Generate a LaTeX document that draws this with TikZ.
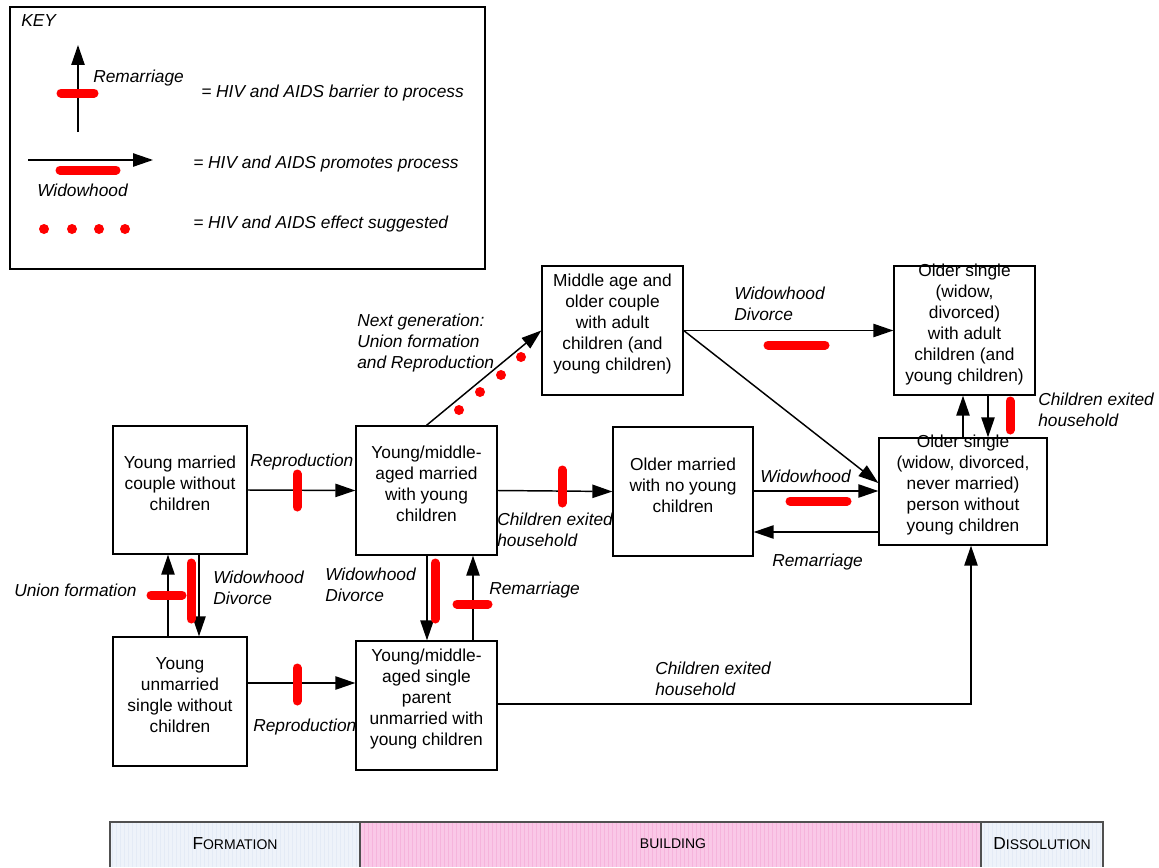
\documentclass[tikz,border=0pt]{standalone}
\usepackage{fontspec}
\setmainfont{Liberation Sans}
\usetikzlibrary{arrows.meta,fit}
\definecolor{hivred}{RGB}{255,0,0}
\definecolor{formblue}{RGB}{238,243,250}
\definecolor{formgrid}{RGB}{228,235,246}
\definecolor{buildpink}{RGB}{250,200,231}
\definecolor{buildgrid}{RGB}{246,180,220}
\definecolor{bardark}{RGB}{80,80,80}
\tikzset{
  box/.style={draw, line width=1pt, align=center, inner sep=0pt, font=\fontsize{13}{15.75}\selectfont},
  conn/.style={line width=1.1pt, -{Triangle[length=15pt,width=10pt]}},
  barrier/.style={draw=hivred, line width=6.75pt, line cap=round},
  lbl/.style={font=\fontsize{13}{15.75}\selectfont\itshape, align=left, inner sep=0pt, anchor=base west},
  hivdot/.style={fill=hivred, circle, inner sep=0pt, minimum size=7.5pt},
  phase/.style={inner sep=0pt, anchor=center},
}
\newcommand{\capbig}[1]{{\fontsize{13}{13}\selectfont #1}}
\newcommand{\capsml}[1]{{\fontsize{10.5}{10.5}\selectfont #1}}
\begin{document}
\begin{tikzpicture}[x=0.75pt,y=-0.75pt]
\useasboundingbox (0,0) rectangle (1159,867);

% ---------- KEY ----------
\draw[line width=1.2pt] (10,7) rectangle (485,269);
\node[lbl] (keyt) at (21,27) {KEY};
\coordinate (kv1) at (78,132);
\coordinate (kv2) at (78,45);
\draw[conn] (kv1) -- (kv2);
\draw[barrier] (61,93) -- (94,93);
\node[lbl] (krem) at (93,83) {Remarriage};
\node[lbl] (kbar) at (201,97) {= HIV and AIDS barrier to process};
\coordinate (kh1) at (28,160);
\coordinate (kh2) at (153,160);
\draw[conn] (kh1) -- (kh2);
\draw[barrier] (60,170) -- (116,170);
\node[lbl] (kwid) at (37,196) {Widowhood};
\node[lbl] (kpro) at (193,168) {= HIV and AIDS promotes process};
\foreach \i/\x in {1/44,2/72,3/99,4/125} \node[hivdot] (kd\i) at (\x,229) {};
\node[lbl] (ksug) at (193,228) {= HIV and AIDS effect suggested};

% ---------- BOXES ----------
\node[box, fit={(113,426) (247,554)}] (ymc) {Young married\\couple without\\children};
\node[box, fit={(113,637) (247,766)}] (yus) {Young\\unmarried\\single without\\children};
\node[box, fit={(356,426) (497,555)}] (ymm) {Young/middle-\\aged married\\with young\\children};
\node[box, fit={(356,641) (497,770)}] (ysp) {Young/middle-\\aged single\\parent\\unmarried with\\young children};
\node[box, fit={(542,266) (683,395)}] (mao) {Middle age and\\older couple\\with adult\\children (and\\young children)};
\node[box, fit={(613,427) (753,556)}] (omn) {Older married\\with no young\\children};
\node[box, fit={(894,266) (1035,395)}] (osa) {Older single\\(widow,\\divorced)\\with adult\\children (and\\young children)};
\node[box, fit={(879,438) (1047,545)}] (osp) {Older single\\(widow, divorced,\\never married)\\person without\\young children};

% reference coordinates
\coordinate (x168) at (168,0);
\coordinate (x199) at (199,0);
\coordinate (x427) at (427,0);
\coordinate (x473) at (473,0);
\coordinate (x963) at (963,0);
\coordinate (x988) at (988,0);
\coordinate (x971) at (971,0);
\coordinate (y683) at (0,683);
\coordinate (y704) at (0,704);
\coordinate (y483) at (0,483);
\coordinate (y491) at (0,491);
\coordinate (y532) at (0,532);

% ---------- CONNECTORS ----------
\draw[conn] (ymc.east) -- (ymm.west);
\draw[barrier] (297,474) -- (297,507);
\node[lbl] (l1) at (250,466) {Reproduction};

\draw[conn] (yus.north -| x168) -- (ymc.south -| x168);
\draw[barrier] (151,595) -- (182,595);
\node[lbl] (l2) at (14,596) {Union formation};

\draw[conn] (ymc.south -| x199) -- (yus.north -| x199);
\draw[barrier] (191,563) -- (191,619);
\node[lbl] (l3) at (213,604) {Widowhood\\Divorce};

\draw[conn] (yus.east |- y683) -- (ysp.west |- y683);
\draw[barrier] (297,668) -- (297,701);
\node[lbl] (l4) at (253,731) {Reproduction};

\draw[conn] (ymm.south -| x427) -- (ysp.north -| x427);
\draw[barrier] (435,563) -- (435,619);
\node[lbl] (l5) at (325,601) {Widowhood\\Divorce};

\draw[conn] (ysp.north -| x473) -- (ymm.south -| x473);
\draw[barrier] (457,604) -- (488,604);
\node[lbl] (l6) at (489,594) {Remarriage};

\draw[conn] (ymm.north) -- (mao.west);
\foreach \i/\x/\y in {1/459/410,2/480/392,3/501/375,4/521/357} \node[hivdot] (nd\i) at (\x,\y) {};
\node[lbl] (l7) at (357,368) {Next generation:\\Union formation\\and Reproduction};

\draw[conn] (ymm.east) -- (omn.west);
\draw[barrier] (562,470) -- (562,503);
\node[lbl] (l8) at (497,546) {Children exited\\household};

\draw[conn] (mao.east) -- (osa.west);
\draw[barrier] (768,345) -- (825,345);
\node[lbl] (l9) at (734,320) {Widowhood\\Divorce};

\draw[conn] (mao.east) -- (osp.west |- y483);

\draw[conn] (omn.east |- y491) -- (osp.west |- y491);
\draw[barrier] (790,501) -- (847,501);
\node[lbl] (l10) at (760,482) {Widowhood};

\draw[conn] (osp.west |- y532) -- (omn.east |- y532);
\node[lbl] (l11) at (772,566) {Remarriage};

\draw[conn] (osp.north -| x963) -- (osa.south -| x963);
\draw[conn] (osa.south -| x988) -- (osp.north -| x988);
\draw[barrier] (1010,401) -- (1010,430);
\node[lbl] (l12) at (1038,426) {Children exited\\household};

\draw[conn] (ysp.east |- y704) -| (osp.south -| x971);
\node[lbl] (l13) at (655,695) {Children exited\\household};

% ---------- PHASE BAR ----------
\fill[formblue] (110,822) rectangle (360,867);
\fill[buildpink] (360,822) rectangle (981,867);
\fill[formblue] (981,822) rectangle (1103,867);
\draw[formgrid, line width=0.25pt, step=4] (110,822) grid (360,867);
\draw[formgrid, line width=0.25pt, step=4] (984,822) grid (1103,867);
\draw[buildgrid, line width=0.25pt, step=4] (360,822) grid (981,867);
\draw[bardark, line width=0.8pt] (110,867) -- (110,822) -- (1103,822) -- (1103,867);
\draw[bardark, line width=1.3pt] (360,822) -- (360,867);
\draw[bardark, line width=1.3pt] (981,822) -- (981,867);
\node[phase] (pf) at (235,844) {\capbig{F}\capsml{ORMATION}};
\node[phase] (pb) at (673,844) {\capsml{BUILDING}};
\node[phase] (pd) at (1042,844) {\capbig{D}\capsml{ISSOLUTION}};
\end{tikzpicture}
\end{document}
